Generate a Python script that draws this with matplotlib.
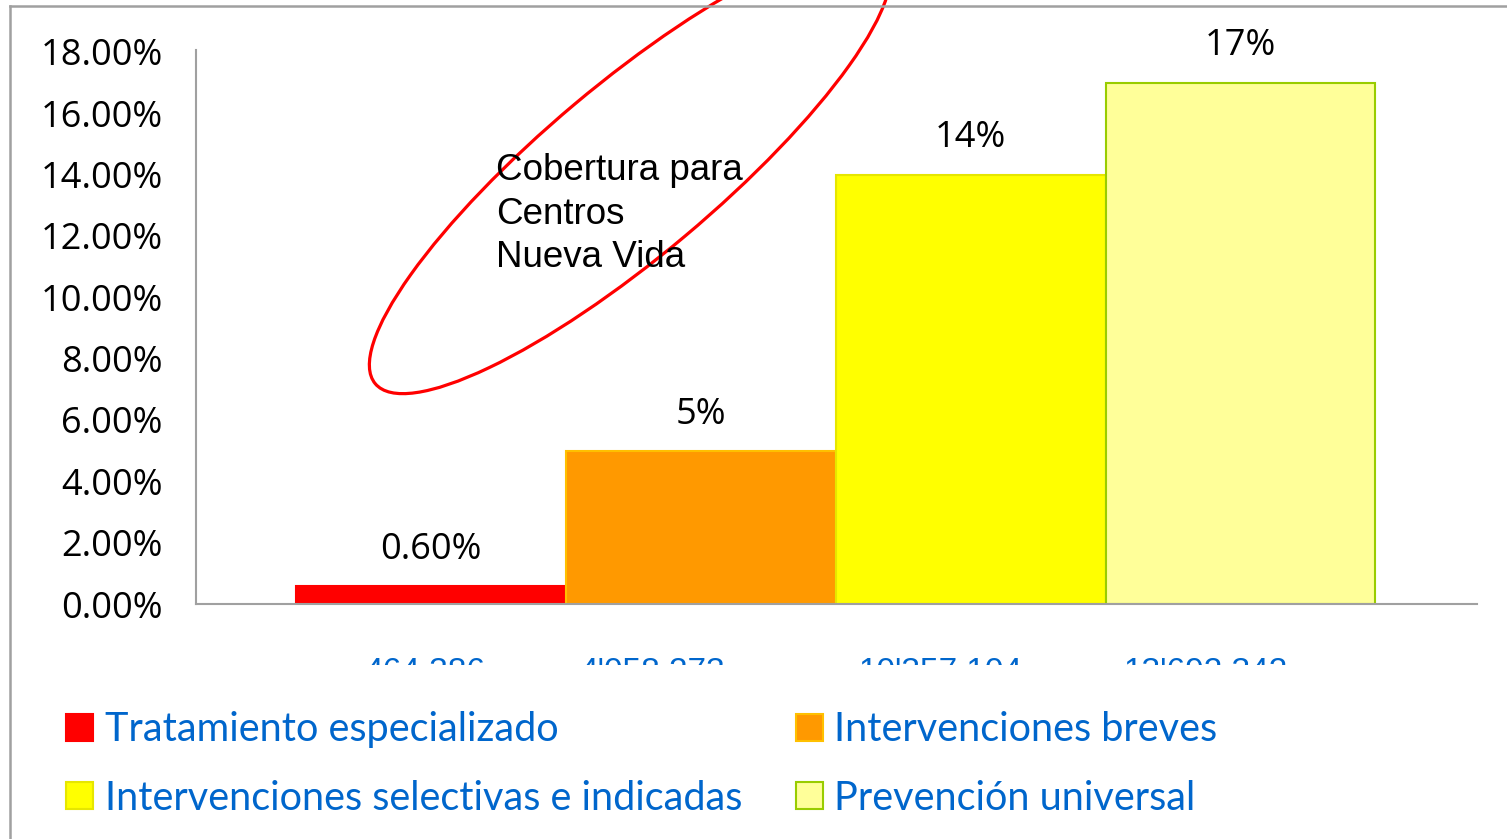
import matplotlib.pyplot as plt
from matplotlib.patches import Ellipse, Patch
from matplotlib.transforms import Bbox, TransformedBbox

# data
categories = ['Tratamiento especializado', 'Intervenciones breves',
              'Intervenciones selectivas e indicadas', 'Prevención universal']
values = [0.006, 0.05, 0.14, 0.17]
value_labels = ['0.60%', '5%', '14%', '17%']
population_labels = ["464,386", "4'058,273", "10'357,104", "13'692,342"]
population_x = [-0.02, 0.82, 1.89, 2.87]
bar_colors = ['#FF0000', '#FF9900', '#FFFF00', '#FFFF99']
edge_colors = ['#FF0000', '#FFC000', '#E6E600', '#99CC00']
yticks = [0.0, 0.02, 0.04, 0.06, 0.08, 0.10, 0.12, 0.14, 0.16, 0.18]

W, H = 1507, 839
fig = plt.figure(figsize=(W / 100, H / 100), dpi=100)
ax = fig.add_axes([196 / W, 1 - 604 / H, (1477 - 196) / W, 554 / H])

xs = list(range(len(values)))
bars = ax.bar(xs, values, width=1.0, color=bar_colors, edgecolor=edge_colors, linewidth=1.5)
ax.bar_label(bars, labels=value_labels, padding=13, fontsize=26, family='Open Sans', color='black')

ax.set_xlim(-0.869, 3.876)
ax.set_ylim(0, 0.1806)
ax.set_yticks(yticks)
ax.set_yticklabels(['%.2f%%' % (v * 100) for v in yticks], fontsize=26, family='Open Sans')
ax.tick_params(axis='y', length=0, pad=24)
ax.set_xticks([])
for s in ['top', 'right']:
    ax.spines[s].set_visible(False)
for s in ['left', 'bottom']:
    ax.spines[s].set_color('#A0A0A0')
    ax.spines[s].set_linewidth(1.5)

# category population labels, cut off at the bottom as in the original
clip = TransformedBbox(Bbox.from_extents(0, (H - 665) / H, 1, 1), fig.transFigure)
for x, lab in zip(population_x, population_labels):
    t = ax.text(x, -0.094, lab, transform=ax.get_xaxis_transform(), ha='center', va='top',
                fontsize=24, family='Liberation Sans', color='#0066CC', clip_on=True)
    t.set_clip_box(clip)

# overlay in pixel coords for frame, ellipse and note
ov = fig.add_axes([0, 0, 1, 1], facecolor='none')
ov.set_xlim(0, W)
ov.set_ylim(H, 0)
ov.axis('off')
ov.plot([10, W], [6, 6], color='#A0A0A0', lw=1.8, clip_on=False)
ov.plot([10, 10], [6, H], color='#A0A0A0', lw=1.8, clip_on=False)
ov.text(496, 153, 'Cobertura para\nCentros\nNueva Vida', ha='left', va='top',
        fontsize=26.5, family='Liberation Sans', color='black', linespacing=1.32)
ov.add_patch(Ellipse((630, 170), 665, 172, angle=-40, fill=False, edgecolor='#FF0000', lw=2.3))

handles = [Patch(facecolor=c, edgecolor=e, linewidth=1.5) for c, e in zip(bar_colors, edge_colors)]
order = [0, 2, 1, 3]
leg = fig.legend([handles[i] for i in order], [categories[i] for i in order],
                 loc='upper left', bbox_to_anchor=(66 / W, 1 - 711 / H), ncol=2,
                 frameon=False, prop={'family': 'Lato', 'size': 28.5},
                 borderpad=0, borderaxespad=0,
                 handlelength=0.68, handleheight=0.68, handletextpad=0.3,
                 columnspacing=1.35, labelspacing=0.8)
for txt in leg.get_texts():
    txt.set_color('#0066CC')

fig.savefig('out.png', dpi=100)
